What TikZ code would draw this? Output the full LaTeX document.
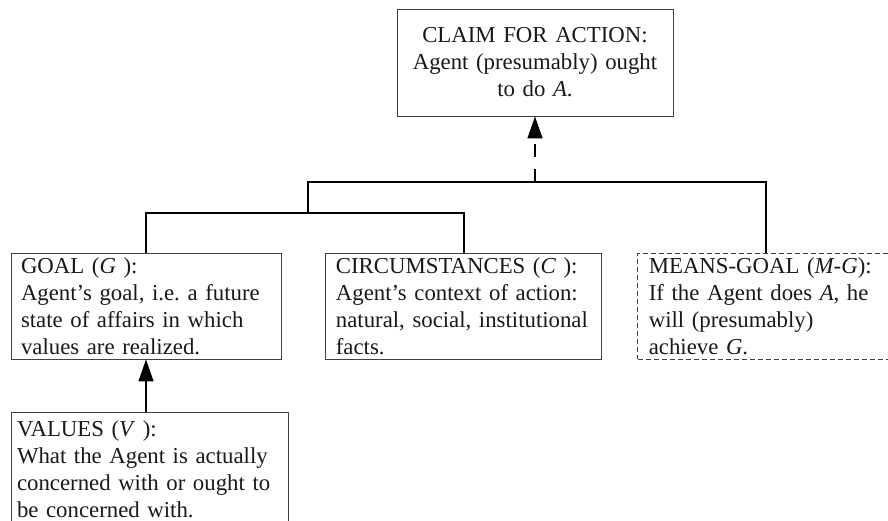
\documentclass[tikz,border=0pt]{standalone}
\usepackage{fontspec}
\setmainfont{Liberation Serif}
\usetikzlibrary{positioning,arrows.meta}
\frenchspacing

\tikzset{
  box/.style={draw=black!75, line width=0.9pt, align=left, inner xsep=10pt,
    minimum height=106pt, text=black!90},
  link/.style={line width=1.4pt},
  dashlink/.style={line width=1.4pt, dash pattern=on 13pt off 12pt,
    -{Triangle[length=22pt,width=15pt]}},
  uplink/.style={line width=1.4pt, -{Triangle[length=22pt,width=15pt]}}
}

\begin{document}
\begin{tikzpicture}[x=1pt, y=1pt, every node/.style={font=\fontsize{22.8}{27}\selectfont}]
            \useasboundingbox (0,0) rectangle (888,-521);

            \node[box, align=center, text width=256pt, minimum height=107pt] (1) at (535,-62.5)
              {CLAIM FOR ACTION:\\ Agent (presumably) ought\\ to do \textit{A}.};
            \node[box, text width=250pt] (2) at (146,-306)
              {GOAL (\textit{G} ):\\ Agent’s goal, i.e.\ a future\\ state of affairs in which\\ values are realized.};
            \node[box, text width=256pt] (3) [right=44pt of 2]
              {CIRCUMSTANCES (\textit{C} ):\\ Agent’s context of action:\\ natural, social, institutional\\ facts.};
            \node[box, text width=234pt, inner xsep=11pt, dash pattern=on 5pt off 3pt] (4) [right=35pt of 3]
              {MEANS-GOAL (\textit{M-G}):\\ If the Agent does \textit{A}, he\\ will (presumably)\\ achieve \textit{G}.};
            \node[box, text width=265pt, inner xsep=6pt, inner ysep=8pt, minimum height=0pt] (5)
              [below=53pt of 2.south west, anchor=north west]
              {VALUES (\textit{V} ):\\ What the Agent is actually\\ concerned with or ought to\\ be concerned with.};

            \coordinate (6) at (308,-213);
            \coordinate (7) at (1.south |- 0,-182);

            \draw[link] (2.north) |- (6) -| (3.north);
            \draw[link] (6) |- (7) -| (4.north);
            \draw[dashlink] (7) -- (1.south);
            \draw[uplink] (5.north -| 2.south) -- (2.south);

        \end{tikzpicture}
\end{document}
